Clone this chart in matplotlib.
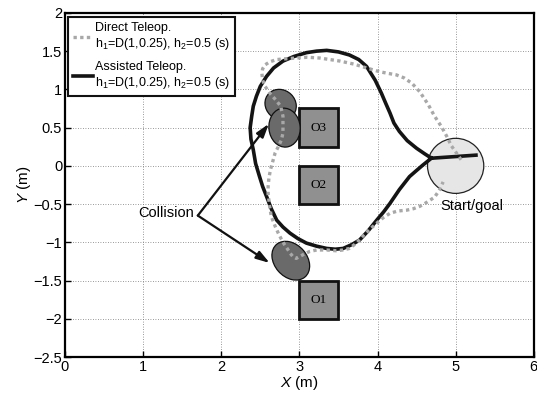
import matplotlib.pyplot as plt
from matplotlib import patches
import numpy as np

plt.rcParams["font.family"] = ["Liberation Sans", "DejaVu Sans"]
plt.rcParams["mathtext.fontset"] = "custom"
plt.rcParams["mathtext.rm"] = "Liberation Sans"
plt.rcParams["mathtext.it"] = "Liberation Sans:italic"

## Direct teleoperation path (grey dotted)
direct_x = [5.07, 4.94, 4.90, 4.82, 4.73, 4.65, 4.54, 4.44, 4.34, 4.24, 4.13, 4.03, 3.86,
            3.70, 3.52, 3.39, 3.26, 3.10, 2.96, 2.83, 2.71, 2.62, 2.56, 2.53, 2.52, 2.53,
            2.56, 2.63, 2.70, 2.76, 2.79, 2.79, 2.79, 2.77, 2.73, 2.69, 2.66, 2.63, 2.61,
            2.60, 2.60, 2.61, 2.62, 2.64, 2.69, 2.73, 2.77, 2.81, 2.85, 2.88, 2.92, 2.96,
            3.05, 3.13, 3.22, 3.35, 3.47, 3.56, 3.64, 3.73, 3.81, 3.90, 3.99, 4.07, 4.16,
            4.26, 4.37, 4.46, 4.54, 4.61, 4.67, 4.73, 4.79, 4.84]
direct_y = [0.08, 0.27, 0.36, 0.51, 0.65, 0.80, 0.97, 1.08, 1.15, 1.19, 1.21, 1.23, 1.28,
            1.33, 1.37, 1.39, 1.41, 1.42, 1.41, 1.40, 1.39, 1.36, 1.32, 1.27, 1.21, 1.12,
            1.04, 0.94, 0.86, 0.78, 0.65, 0.54, 0.43, 0.34, 0.25, 0.17, 0.06, -0.05, -0.16,
            -0.27, -0.37, -0.45, -0.53, -0.66, -0.79, -0.88, -0.96, -1.03, -1.09, -1.14,
            -1.19, -1.21, -1.16, -1.12, -1.10, -1.10, -1.11, -1.10, -1.08, -1.01, -0.92,
            -0.83, -0.75, -0.68, -0.62, -0.59, -0.58, -0.56, -0.53, -0.49, -0.45, -0.41,
            -0.32, -0.21]

## Assisted teleoperation path (black solid)
assist_x = [5.26, 4.69, 4.60, 4.50, 4.38, 4.28, 4.21, 4.16, 4.10, 4.05, 3.97, 3.86, 3.76,
            3.64, 3.50, 3.35, 3.22, 3.09, 2.93, 2.79, 2.67, 2.58, 2.50, 2.45, 2.41, 2.39,
            2.37, 2.38, 2.41, 2.44, 2.49, 2.53, 2.58, 2.64, 2.71, 2.79, 2.88, 2.98, 3.09,
            3.22, 3.35, 3.46, 3.56, 3.67, 3.77, 3.88, 3.99, 4.08, 4.16, 4.28, 4.41, 4.50,
            4.58, 4.69]
assist_y = [0.14, 0.10, 0.16, 0.23, 0.33, 0.45, 0.56, 0.69, 0.83, 0.95, 1.12, 1.30, 1.39,
            1.45, 1.49, 1.51, 1.50, 1.48, 1.43, 1.37, 1.28, 1.17, 1.04, 0.91, 0.78, 0.65,
            0.50, 0.35, 0.21, 0.03, -0.14, -0.27, -0.40, -0.56, -0.71, -0.80, -0.88, -0.95,
            -1.01, -1.05, -1.08, -1.09, -1.08, -1.03, -0.97, -0.85, -0.71, -0.60, -0.49,
            -0.31, -0.14, -0.06, 0.01, 0.10]

## Obstacles (lower-left corners) and labels
obs_names = ["O1", "O2", "O3"]
obs_x = [3.0, 3.0, 3.0]
obs_y = [-2.0, -0.5, 0.25]
obs_size = 0.5

## Collision ellipses: centre x, centre y, width, height, angle
coll_x = [2.76, 2.81, 2.89]
coll_y = [0.80, 0.50, -1.24]
coll_w = [0.42, 0.40, 0.56]
coll_h = [0.38, 0.51, 0.42]
coll_ang = [-45, 5, -50]

start_xy = (5.0, 0.0)
start_r = 0.36

collision_label_xy = (1.70, -0.65)
arrow_tips = [(2.61, 0.55), (2.62, -1.27)]

fig = plt.figure(figsize=(5.37, 4.03), dpi=100)
ax = fig.add_axes([0.121, 0.114, 0.873, 0.854])
ax.set_xlim(0, 6)
ax.set_ylim(-2.5, 2)
ax.set_xticks(np.arange(0, 7, 1))
ax.set_yticks(np.arange(-2.5, 2.01, 0.5))
ax.set_yticklabels(["\u22122.5", "\u22122", "\u22121.5", "\u22121", "\u22120.5", "0",
                    "0.5", "1", "1.5", "2"])
ax.tick_params(direction="in", length=4, width=1, labelsize=10.5, pad=2)
ax.grid(True, linestyle=(0, (1, 2)), color="#777777", linewidth=0.6)
ax.set_axisbelow(True)
for s in ax.spines.values():
    s.set_linewidth(1.6)

ax.set_xlabel("$X$ (m)", fontsize=11, labelpad=0)
ax.set_ylabel("$Y$ (m)", fontsize=11, labelpad=0)

## Obstacles
for name, ox, oy in zip(obs_names, obs_x, obs_y):
    ax.add_patch(patches.Rectangle((ox, oy), obs_size, obs_size, facecolor="#909090",
                                   edgecolor="#111111", linewidth=2, zorder=2))
    ax.text(ox + obs_size / 2, oy + obs_size / 2, name, family="Liberation Serif",
            fontsize=9.5, ha="center", va="center", zorder=3)

## Collisions
for cx, cy, w, h, a in zip(coll_x, coll_y, coll_w, coll_h, coll_ang):
    ax.add_patch(patches.Ellipse((cx, cy), w, h, angle=a, facecolor="#6a6a6a",
                                 edgecolor="#111111", linewidth=0.9, zorder=2))

## Start/goal
ax.add_patch(patches.Circle(start_xy, start_r, facecolor="#e6e6e6", edgecolor="#222222",
                            linewidth=0.9, zorder=2))
ax.text(4.81, -0.53, "Start/goal", fontsize=10.5, ha="left", va="center", zorder=5)

## Paths
ax.plot(direct_x, direct_y, color="#a8a8a8", linewidth=2.4, linestyle=(0, (1, 1)),
        zorder=4, label="Direct Teleop.\n$\\mathrm{h_1}$=D(1,0.25), $\\mathrm{h_2}$=0.5 (s)")
ax.plot(assist_x, assist_y, color="#141414", linewidth=2.6, zorder=3.5,
        solid_joinstyle="round",
        label="Assisted Teleop.\n$\\mathrm{h_1}$=D(1,0.25), $\\mathrm{h_2}$=0.5 (s)")

## Collision arrows
ax.text(collision_label_xy[0] - 0.05, collision_label_xy[1] + 0.04, "Collision",
        fontsize=10.5, ha="right", va="center")
for tip in arrow_tips:
    ax.annotate("", xy=tip, xytext=collision_label_xy,
                arrowprops=dict(arrowstyle="-|>,head_length=0.8,head_width=0.25",
                                color="#111111", lw=1.6, shrinkA=0, shrinkB=0),
                zorder=5)

leg = ax.legend(loc="upper left", bbox_to_anchor=(0.0064, 0.988), borderaxespad=0,
                fontsize=9, handlelength=1.6, handletextpad=0.15, fancybox=False,
                framealpha=1, edgecolor="#111111", borderpad=0.4, labelspacing=0.7)
leg.get_frame().set_linewidth(1.5)

fig.savefig("out.png", dpi=100)
